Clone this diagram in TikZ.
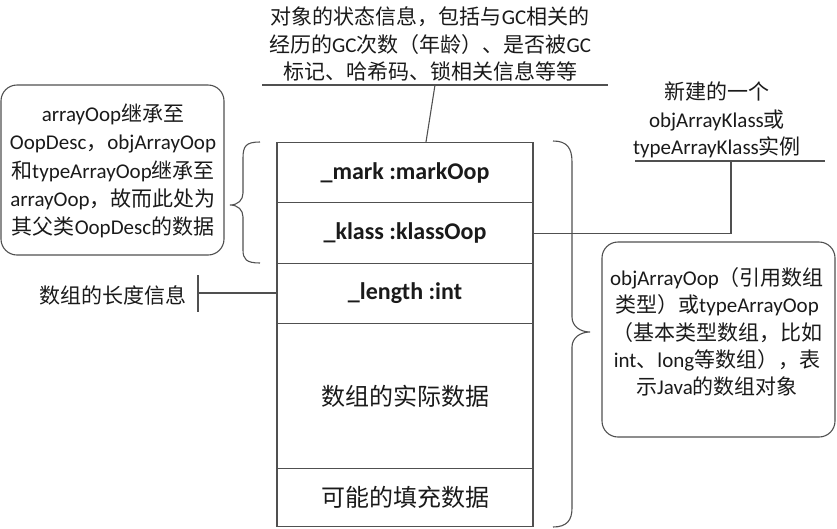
\documentclass[tikz,border=0pt]{standalone}
\usepackage{fontspec}
\setmainfont{Carlito}
\newfontfamily\cjk{Noto Sans CJK SC}
\newcommand{\zh}[1]{{\cjk #1}}
\definecolor{ln}{HTML}{505050}
\definecolor{tx}{HTML}{1A1A1A}
\begin{document}
\begin{tikzpicture}[x=1pt,y=-1pt,
  every node/.style={text=tx},
  ln/.style={draw=ln,line width=1.1pt},
  rowbox/.style={draw=ln,line width=1.1pt,minimum width=256pt,inner sep=0pt,font=\fontsize{24}{28}\selectfont},
  note/.style={align=center,font=\fontsize{21}{27.5}\selectfont,inner sep=0pt},
  rbox/.style={draw=ln,line width=1.1pt,rounded corners=16pt,inner sep=0pt}]
\useasboundingbox (0,0) rectangle (837,528);
% table rows
\node[rowbox,minimum height=60pt,anchor=north] (mark) at (405,142) {\bfseries \_mark :markOop};
\node[rowbox,minimum height=61pt,anchor=north] (klass) at (405,202) {\bfseries \_klass :klassOop};
\node[rowbox,minimum height=60pt,anchor=north] (length) at (405,263) {\bfseries \_length :int};
\node[rowbox,minimum height=145pt,anchor=north] (data) at (405,323) {\zh{数组的实际数据}};
\node[rowbox,minimum height=58pt,anchor=north] (pad) at (405,468) {\zh{可能的填充数据}};
% left rounded box
\node[rbox,minimum width=223pt,minimum height=170pt] (lbox) at (112.5,170) {};
\node[note,font=\fontsize{21}{28.2}\selectfont] (ltext) at (113,171) {arrayOop\zh{继承至}\\OopDesc\zh{，}objArrayOop\\\zh{和}typeArrayOop\zh{继承至}\\arrayOop\zh{，故而此处为}\\\zh{其父类}OopDesc\zh{的数据}};
% left brace
\draw[ln] (260,142) .. controls (246,142) and (243,146) .. (243,158) -- (243,193) .. controls (243,200) and (238,205) .. (230,205) .. controls (238,205) and (243,210) .. (243,217) -- (243,250) .. controls (243,259) and (246,263) .. (260,263);
% length label
\node[note] (lentext) at (113,295) {\zh{数组的长度信息}};
\coordinate (lbartop) at (198,275);
\coordinate (lbarbot) at (198,312);
\coordinate (lbarmid) at (198,293);
\draw[ln] (lbartop) -- (lbarbot);
\draw[ln] (lbarmid) -- (lbarmid -| length.west);
% top note
\node[note] (gc) at (430,44) {\zh{对象的状态信息，包括与}GC\zh{相关的}\\\zh{经历的}GC\zh{次数（年龄）、是否被}GC\\\zh{标记、哈希码、锁相关信息等等}};
\coordinate (gcl) at (262,85);
\coordinate (gcr) at (608,85);
\coordinate (gcm) at (435,85);
\coordinate (markhit) at (426,142);
\draw[ln] (gcl) -- (gcr);
\draw[ln] (gcm) -- (markhit);
% right top note
\node[note] (kl) at (717,120) {\zh{新建的一个}\\objArrayKlass\zh{或}\\typeArrayKlass\zh{实例}};
\coordinate (kll) at (635,161);
\coordinate (klr) at (825,161);
\coordinate (klm) at (731,161);
\draw[ln] (kll) -- (klr);
\draw[ln] (klass.east) -- (klass.east -| klm) -- (klm);
% right brace
\draw[ln] (553,141) .. controls (567,141) and (572,148) .. (572,162) -- (572,317) .. controls (572,326) and (580,332) .. (590,332) .. controls (580,332) and (572,338) .. (572,347) -- (572,508) .. controls (572,520) and (567,527) .. (553,527);
% right rounded box
\node[rbox,minimum width=233pt,minimum height=195pt] (rbox) at (718.5,339.5) {};
\node[note,font=\fontsize{21}{27.3}\selectfont] (rtext) at (717,332) {objArrayOop\zh{（引用数组}\\\zh{类型）或}typeArrayOop\\\zh{（基本类型数组，比如}\\int\zh{、}long\zh{等数组），表}\\\zh{示}Java\zh{的数组对象}};
\end{tikzpicture}
\end{document}
